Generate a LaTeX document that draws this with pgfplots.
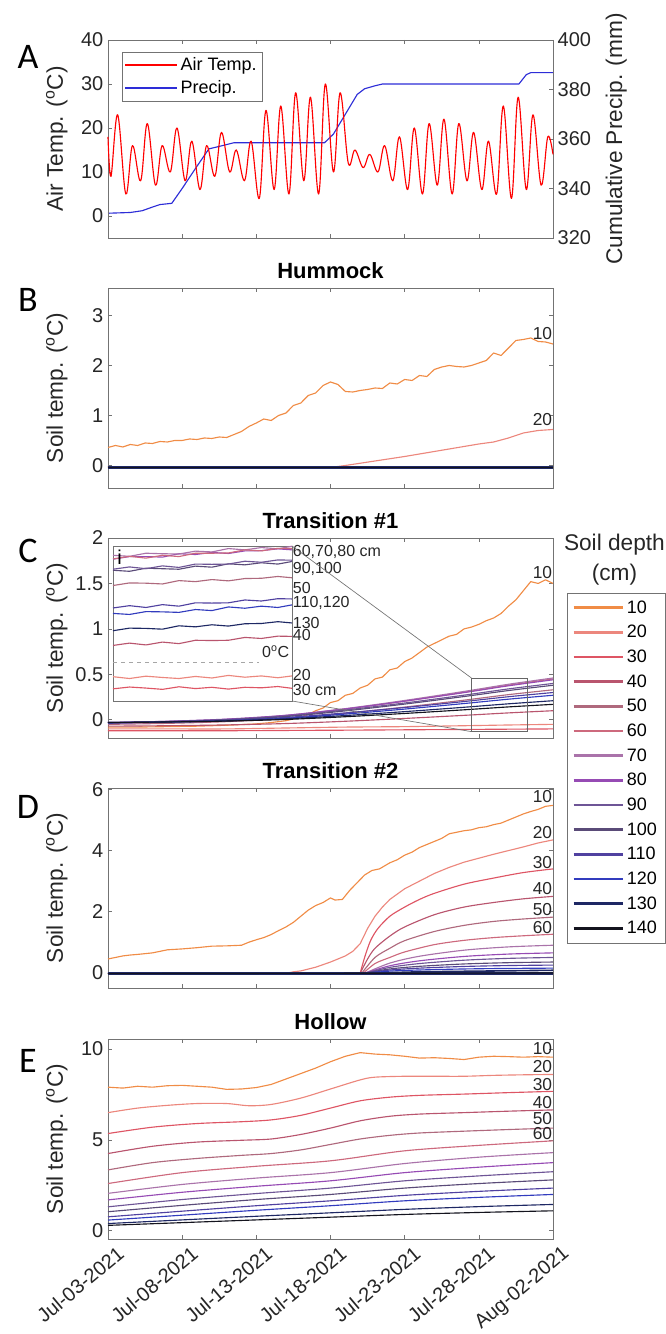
\documentclass[border=0pt]{standalone}
\usepackage{fontspec}
\setmainfont{Liberation Sans}
\newfontfamily\letterfont{Carlito}
\usepackage{pgfplots}
\pgfplotsset{compat=1.18}
\definecolor{c10}{RGB}{240,140,70}
\definecolor{c20}{RGB}{236,135,125}
\definecolor{c30}{RGB}{222,85,100}
\definecolor{c40}{RGB}{185,85,110}
\definecolor{c50}{RGB}{175,105,125}
\definecolor{c60}{RGB}{205,105,125}
\definecolor{c70}{RGB}{170,115,170}
\definecolor{c80}{RGB}{150,75,180}
\definecolor{c90}{RGB}{110,85,150}
\definecolor{c100}{RGB}{90,75,120}
\definecolor{c110}{RGB}{80,65,160}
\definecolor{c120}{RGB}{50,60,190}
\definecolor{c130}{RGB}{30,40,100}
\definecolor{c140}{RGB}{20,20,30}
\definecolor{precip}{RGB}{45,45,215}
\pgfplotsset{
  every axis title shift=0pt,
  panel/.style={
    scale only axis, width=333.75pt, height=150pt, anchor=north west,
    xmin=0, xmax=30, xtick={0,5,...,30}, xticklabels={},
    axis line style={black!55}, tick style={black!55, line width=0.5pt}, major tick length=3pt,
    ticklabel style={font=\fontsize{15}{17}\selectfont, text=black!85},
    /pgf/number format/assume math mode=true,
    ylabel style={font=\fontsize{17}{19}\selectfont, text=black!85, at={(axis description cs:-0.115,0.5)}, anchor=center},
    title style={font=\bfseries\fontsize{16.5}{18}\selectfont, at={(0.5,1)}, anchor=base, yshift=7pt},
    every axis plot/.append style={line width=0.85pt, line join=round},
    clip=false,
  },
}
\tikzset{
  lab/.style={font=\fontsize{13}{14}\selectfont, anchor=east, inner sep=0.5pt, text=black!85},
  ilab/.style={font=\fontsize{12}{13}\selectfont, anchor=west, inner sep=0.5pt, text=black!85},
}
\begin{document}
\begin{tikzpicture}
\path[use as bounding box] (0,0) rectangle (499.5pt,1000.5pt);
\node[font=\letterfont\fontsize{27}{27}\selectfont] at (21pt,957.75pt) {A};
\node[font=\letterfont\fontsize{27}{27}\selectfont] at (21pt,775.5pt) {B};
\node[font=\letterfont\fontsize{27}{27}\selectfont] at (21pt,587.25pt) {C};
\node[font=\letterfont\fontsize{27}{27}\selectfont] at (21pt,395.25pt) {D};
\node[font=\letterfont\fontsize{27}{27}\selectfont] at (21pt,204.75pt) {E};

% ---------------- A ----------------
\begin{axis}[panel, at={(81pt,970.5pt)}, height=148.5pt,
  ymin=320, ymax=400, ytick={320,340,...,400}, axis y line*=right, axis x line=none,
  ylabel={Cumulative Precip. (mm)},
  ylabel style={at={(axis description cs:1.142,0.5)}, anchor=center}]
\addplot[precip] coordinates {
(0,330)(1.5,330.3)(2.3,331)(3,332.5)(3.5,333.5)(4.3,334)(5,340)(6,349)(6.8,356)(7.5,357)(8.5,358.5)
(14.6,358.5)(15.2,362)(16,370)(16.8,378)(17.3,380.3)(18,381.5)(18.5,382.2)(27.7,382.2)(28.2,386)(28.5,386.8)(30,386.8)};
\end{axis}
\begin{axis}[panel, at={(81pt,970.5pt)}, height=148.5pt,
  ymin=-5, ymax=40, ytick={0,10,20,30,40}, ytick pos=left,
  ylabel={Air Temp. (\textsuperscript{o}C)},
  legend style={at={(0.031,0.94)}, anchor=north west, draw=black!55, font=\fontsize{13.5}{15}\selectfont,
    row sep=2pt, inner sep=2pt},
  legend cell align=left]
\addplot[red, smooth, tension=0.6, forget plot] coordinates {
(0,18)(0.2,9)(0.65,23)(1.2,5)(1.65,16)(2.2,8)(2.65,21)(3.2,7)(3.65,16)(4.2,10)(4.65,20)
(5.2,8)(5.65,17)(6.2,6)(6.65,16)(7.2,9)(7.65,19)(8.2,10)(8.65,15)(9.2,8)(9.65,17)
(10.2,4)(10.65,24)(11.2,6)(11.65,25)(12.2,5)(12.65,28)(13.2,8)(13.65,27)(14.2,5)(14.65,30)
(15.2,10)(15.65,28)(16.2,12)(16.65,15)(17.2,11)(17.65,14)(18.2,10)(18.65,16)(19.2,8)(19.65,18)
(20.2,6)(20.65,20)(21.2,5)(21.65,21)(22.2,7)(22.65,22)(23.2,5)(23.65,21)(24.2,8)(24.65,19)
(25.2,6)(25.65,17)(26.2,5)(26.65,25)(27.2,4)(27.65,27)(28.2,6)(28.65,23)(29.2,7)(29.65,18)(30,14)};
\addlegendimage{legend image code/.code={\draw[red, line width=1pt] (0pt,0pt) -- (39pt,0pt);}}
\addlegendentry{Air Temp.}
\addlegendimage{legend image code/.code={\draw[precip, line width=1pt] (0pt,0pt) -- (39pt,0pt);}}
\addlegendentry{Precip.}
\end{axis}

% ---------------- B ----------------
\begin{axis}[panel, at={(81pt,784.5pt)}, ymin=-0.45, ymax=3.55, ytick={0,1,2,3},
  title={Hummock}, ylabel={Soil temp. (\textsuperscript{o}C)}]
\addplot[c10] coordinates {
(0,0.36)(0.5,0.4)(1,0.37)(1.5,0.42)(2,0.4)(2.5,0.45)(3,0.44)(3.5,0.48)(4,0.47)(4.5,0.5)(5,0.5)
(5.5,0.53)(6,0.52)(6.5,0.55)(7,0.54)(7.5,0.57)(8,0.56)(8.5,0.62)(9,0.68)(9.5,0.78)(10,0.85)
(10.5,0.93)(11,0.9)(11.5,1.0)(12,1.05)(12.5,1.2)(13,1.25)(13.5,1.4)(14,1.45)(14.5,1.6)(15,1.67)
(15.5,1.62)(16,1.48)(16.5,1.47)(17,1.5)(17.5,1.52)(18,1.55)(18.5,1.54)(19,1.65)(19.5,1.63)(20,1.72)
(20.5,1.7)(21,1.8)(21.5,1.78)(22,1.92)(22.5,1.97)(23,2.0)(23.5,1.98)(24,1.97)(24.5,2.0)(25,2.05)
(25.5,2.1)(26,2.25)(26.5,2.2)(27,2.35)(27.5,2.5)(28,2.52)(28.5,2.55)(29,2.48)(29.5,2.47)(30,2.43)};
\addplot[c20] coordinates {(0,-0.04)(15,-0.04)(16,0.0)(18,0.09)(20,0.18)(22,0.28)(24,0.38)(25,0.43)(26,0.47)(27,0.55)(28,0.65)(29,0.7)(30,0.72)};
\addplot[c30] coordinates {(0,-0.03)(30,-0.03)};
\addplot[c40] coordinates {(0,-0.03)(30,-0.03)};
\addplot[c50] coordinates {(0,-0.03)(30,-0.03)};
\addplot[c60] coordinates {(0,-0.03)(30,-0.03)};
\addplot[c70] coordinates {(0,-0.03)(30,-0.03)};
\addplot[c80] coordinates {(0,-0.03)(30,-0.03)};
\addplot[c90] coordinates {(0,-0.03)(30,-0.03)};
\addplot[c100] coordinates {(0,-0.03)(30,-0.03)};
\addplot[c110] coordinates {(0,-0.035)(30,-0.035)};
\addplot[c120] coordinates {(0,-0.035)(30,-0.035)};
\addplot[c130,line width=2.4pt] coordinates {(0,-0.035)(30,-0.035)};
\addplot[c140] coordinates {(0,-0.04)(30,-0.04)};
\node[lab] at (axis cs:30,2.63) {10};
\node[lab] at (axis cs:30,0.92) {20};
\end{axis}

% ---------------- C ----------------
\begin{axis}[panel, at={(81pt,597pt)}, ymin=-0.2, ymax=2, ytick={0,0.5,1,1.5,2},
  title={Transition \#1}, ylabel={Soil temp. (\textsuperscript{o}C)},
  legend style={at={(1.031,0.726)}, anchor=north west, draw=black!55, font=\fontsize{13.5}{15}\selectfont,
    nodes={inner sep=2pt, text height=10pt, text depth=2pt}, row sep=2.5pt, inner xsep=4pt, inner ysep=3pt},
  legend cell align=left,
  legend image code/.code={\draw[#1, line width=1.9pt] (0pt,0pt) -- (37pt,0pt);}]
\addplot[c10] coordinates {
(0,-0.08)(2,-0.08)(4,-0.075)(6,-0.07)(8,-0.06)(10,-0.045)(11,-0.03)(12,-0.01)(13,0.03)(13.5,0.06)
(14,0.1)(14.5,0.13)(15,0.19)(15.5,0.21)(16,0.27)(16.5,0.29)(17,0.35)(17.5,0.38)(18,0.45)(18.5,0.47)
(19,0.55)(19.5,0.57)(20,0.64)(20.5,0.68)(21,0.74)(21.5,0.8)(22,0.84)(22.5,0.88)(23,0.92)(23.5,0.94)
(24,1.0)(24.5,1.02)(25,1.05)(25.5,1.09)(26,1.12)(26.5,1.17)(27,1.25)(27.5,1.32)(28,1.42)(28.5,1.52)
(29,1.5)(29.5,1.54)(30,1.5)};
\addlegendentry{10}
\addplot[c20,smooth] coordinates {(0,-0.10)(4,-0.10)(8,-0.10)(12,-0.09)(16,-0.08)(20,-0.075)(24,-0.065)(27,-0.057)(30,-0.05)};
\addlegendentry{20}
\addplot[c30,smooth] coordinates {(0,-0.12)(4,-0.12)(8,-0.12)(12,-0.117)(16,-0.114)(20,-0.11)(24,-0.106)(27,-0.103)(30,-0.10)};
\addlegendentry{30}
\addplot[c40,smooth] coordinates {(0,-0.07)(4,-0.065)(8,-0.056)(12,-0.041)(16,-0.016)(20,0.015)(24,0.049)(27,0.076)(30,0.10)};
\addlegendentry{40}
\addplot[c50,smooth] coordinates {(0,-0.05)(4,-0.039)(8,-0.02)(12,0.015)(16,0.072)(20,0.14)(24,0.216)(27,0.277)(30,0.33)};
\addlegendentry{50}
\addplot[c60,smooth] coordinates {(0,-0.04)(4,-0.025)(8,-0.001)(12,0.043)(16,0.117)(20,0.205)(24,0.303)(27,0.381)(30,0.45)};
\addlegendentry{60}
\addplot[c70,smooth] coordinates {(0,-0.035)(4,-0.02)(8,0.005)(12,0.049)(16,0.123)(20,0.213)(24,0.312)(27,0.391)(30,0.46)};
\addlegendentry{70}
\addplot[c80,smooth] coordinates {(0,-0.03)(4,-0.016)(8,0.008)(12,0.05)(16,0.12)(20,0.205)(24,0.299)(27,0.374)(30,0.44)};
\addlegendentry{80}
\addplot[c90,smooth] coordinates {(0,-0.03)(4,-0.017)(8,0.004)(12,0.043)(16,0.108)(20,0.185)(24,0.271)(27,0.34)(30,0.40)};
\addlegendentry{90}
\addplot[c100,smooth] coordinates {(0,-0.035)(4,-0.023)(8,-0.002)(12,0.036)(16,0.098)(20,0.173)(24,0.256)(27,0.322)(30,0.38)};
\addlegendentry{100}
\addplot[c110,smooth] coordinates {(0,-0.03)(4,-0.02)(8,-0.004)(12,0.026)(16,0.076)(20,0.135)(24,0.201)(27,0.254)(30,0.30)};
\addlegendentry{110}
\addplot[c120,smooth] coordinates {(0,-0.035)(4,-0.026)(8,-0.011)(12,0.017)(16,0.063)(20,0.118)(24,0.179)(27,0.227)(30,0.27)};
\addlegendentry{120}
\addplot[c130,smooth] coordinates {(0,-0.03)(4,-0.023)(8,-0.011)(12,0.011)(16,0.047)(20,0.09)(24,0.138)(27,0.176)(30,0.21)};
\addlegendentry{130}
\addplot[c140,smooth] coordinates {(0,-0.03)(4,-0.024)(8,-0.014)(12,0.004)(16,0.034)(20,0.07)(24,0.11)(27,0.142)(30,0.17)};
\addlegendentry{140}
\node[lab] at (axis cs:30,1.62) {10};
\draw[black!60, line width=0.5pt] (axis cs:24.5,-0.13) rectangle (axis cs:28.3,0.46);
\coordinate (boxTL) at (axis cs:24.5,0.46);
\coordinate (boxBL) at (axis cs:24.5,-0.13);
\node[font=\fontsize{17}{19}\selectfont, text=black!85] at (rel axis cs:1.138,0.965) {Soil depth};
\node[font=\fontsize{17}{19}\selectfont, text=black!85] at (rel axis cs:1.138,0.818) {(cm)};
\end{axis}

% ---------------- inset ----------------
\begin{axis}[at={(84.75pt,591pt)}, anchor=north west, scale only axis, width=134.25pt, height=116.25pt,
  xmin=24.5, xmax=28.3, ymin=-0.15, ymax=0.45, ticks=none, axis line style={black!55},
  axis background/.style={fill=white}, clip=false,
  every axis plot/.append style={line width=0.85pt, line join=round}]
\addplot[black!35, dashed, line width=0.5pt] coordinates {(24.5,0)(27.6,0)};
\addplot[c30] coordinates {(24.5,-0.103)(24.85,-0.096)(25.2,-0.100)(25.55,-0.105)(25.9,-0.095)(26.25,-0.102)(26.6,-0.097)(26.95,-0.104)(27.3,-0.097)(27.65,-0.099)(28.0,-0.094)(28.3,-0.101)};
\addplot[c20] coordinates {(24.5,-0.056)(24.85,-0.063)(25.2,-0.054)(25.55,-0.059)(25.9,-0.063)(26.25,-0.055)(26.6,-0.061)(26.95,-0.051)(27.3,-0.058)(27.65,-0.053)(28.0,-0.060)(28.3,-0.053)};
\addplot[c40] coordinates {(24.5,0.065)(24.85,0.074)(25.2,0.067)(25.55,0.078)(25.9,0.072)(26.25,0.085)(26.6,0.084)(26.95,0.085)(27.3,0.096)(27.65,0.092)(28.0,0.101)(28.3,0.100)};
\addplot[c130] coordinates {(24.5,0.122)(24.85,0.132)(25.2,0.131)(25.55,0.128)(25.9,0.141)(26.25,0.137)(26.6,0.145)(26.95,0.140)(27.3,0.149)(27.65,0.150)(28.0,0.157)(28.3,0.152)};
\addplot[c120] coordinates {(24.5,0.189)(24.85,0.185)(25.2,0.196)(25.55,0.195)(25.9,0.193)(26.25,0.204)(26.6,0.200)(26.95,0.214)(27.3,0.209)(27.65,0.217)(28.0,0.212)(28.3,0.222)};
\addplot[c110] coordinates {(24.5,0.210)(24.85,0.219)(25.2,0.212)(25.55,0.223)(25.9,0.217)(26.25,0.230)(26.6,0.229)(26.95,0.230)(27.3,0.241)(27.65,0.237)(28.0,0.246)(28.3,0.245)};
\addplot[c50] coordinates {(24.5,0.297)(24.85,0.307)(25.2,0.306)(25.55,0.303)(25.9,0.316)(26.25,0.312)(26.6,0.320)(26.95,0.315)(27.3,0.324)(27.65,0.325)(28.0,0.332)(28.3,0.327)};
\addplot[c100] coordinates {(24.5,0.356)(24.85,0.352)(25.2,0.364)(25.55,0.362)(25.9,0.360)(26.25,0.372)(26.6,0.368)(26.95,0.381)(27.3,0.377)(27.65,0.385)(28.0,0.380)(28.3,0.390)};
\addplot[c90] coordinates {(24.5,0.360)(24.85,0.369)(25.2,0.362)(25.55,0.373)(25.9,0.367)(26.25,0.380)(26.6,0.379)(26.95,0.380)(27.3,0.391)(27.65,0.387)(28.0,0.396)(28.3,0.395)};
\addplot[c80] coordinates {(24.5,0.399)(24.85,0.409)(25.2,0.409)(25.55,0.407)(25.9,0.420)(26.25,0.417)(26.6,0.425)(26.95,0.421)(27.3,0.431)(27.65,0.432)(28.0,0.439)(28.3,0.435)};
\addplot[c70] coordinates {(24.5,0.414)(24.85,0.410)(25.2,0.422)(25.55,0.420)(25.9,0.419)(26.25,0.430)(26.6,0.427)(26.95,0.440)(27.3,0.435)(27.65,0.444)(28.0,0.439)(28.3,0.449)};
\addplot[c60] coordinates {(24.5,0.400)(24.85,0.410)(25.2,0.403)(25.55,0.414)(25.9,0.409)(26.25,0.422)(26.6,0.422)(26.95,0.423)(27.3,0.435)(27.65,0.431)(28.0,0.441)(28.3,0.440)};
\coordinate (insTR) at (rel axis cs:1,1);
\coordinate (insBR) at (rel axis cs:1,0);
\node[font=\fontsize{15}{17}\selectfont, anchor=north west, inner sep=1pt] at (rel axis cs:0.015,0.985) {i};
\node[ilab] at (rel axis cs:1,0.96) {60,70,80 cm};
\node[ilab] at (rel axis cs:1,0.85) {90,100};
\node[ilab] at (rel axis cs:1,0.73) {50};
\node[ilab] at (rel axis cs:1,0.635) {110,120};
\node[ilab] at (rel axis cs:1,0.50) {130};
\node[ilab] at (rel axis cs:1,0.425) {40};
\node[lab, font=\fontsize{12}{13}\selectfont] at (rel axis cs:0.99,0.32) {0\textsuperscript{o}C};
\node[ilab] at (rel axis cs:1,0.17) {20};
\node[ilab] at (rel axis cs:1,0.07) {30 cm};
\end{axis}
\draw[black!55, line width=0.5pt] (insTR) -- (boxTL);
\draw[black!55, line width=0.5pt] (insBR) -- (boxBL);

% ---------------- D ----------------
\begin{axis}[panel, at={(81pt,409.5pt)}, ymin=-0.5, ymax=6.05, ytick={0,2,4,6},
  title={Transition \#2}, ylabel={Soil temp. (\textsuperscript{o}C)}]
\addplot[c10] coordinates {
(0,0.45)(0.5,0.5)(1,0.55)(1.5,0.58)(2,0.6)(3,0.65)(4,0.75)(5,0.78)(6,0.82)(7,0.87)(8,0.88)(9,0.9)
(9.5,1.0)(10,1.08)(10.5,1.15)(11,1.25)(11.5,1.38)(12,1.5)(12.5,1.65)(13,1.85)(13.5,2.05)(14,2.2)
(14.5,2.3)(15,2.45)(15.3,2.38)(15.8,2.4)(16.3,2.7)(16.8,2.95)(17.3,3.2)(17.8,3.35)(18.3,3.4)(19,3.6)
(19.5,3.7)(20,3.85)(20.5,3.95)(21,4.1)(21.5,4.2)(22,4.3)(22.5,4.4)(23,4.55)(23.5,4.6)(24,4.65)
(24.5,4.68)(25,4.75)(25.5,4.78)(26,4.85)(26.5,4.9)(27,5.0)(27.5,5.1)(28,5.2)(28.5,5.28)(29,5.35)(29.5,5.45)(30,5.48)};
\addplot[c20] coordinates {(0,-0.02)(12,-0.02)(12.5,0.03)(13,0.06)(14,0.18)(15,0.35)(16,0.55)(16.5,0.7)(17,0.95)(17.5,1.45)(18,1.85)(18.5,2.15)(19,2.4)(20,2.75)(21,3.0)(22,3.25)(23,3.45)(24,3.62)(25,3.75)(26,3.88)(27,4.0)(28,4.12)(29,4.25)(30,4.35)};
\addplot[c30] coordinates {(0,-0.02)(17,-0.02)};
\addplot[c30,smooth,tension=0.5] coordinates {(17,-0.02)(17.3,0.5)(17.7,1.05)(18.2,1.45)(19,1.85)(20,2.15)(21,2.4)(22,2.6)(24,2.9)(26,3.1)(28,3.28)(30,3.4)};
\addplot[c40] coordinates {(0,-0.02)(17,-0.02)};
\addplot[c40,smooth,tension=0.5] coordinates {(17,-0.02)(17.5,0.45)(18,0.8)(19,1.2)(20,1.5)(22,1.9)(24,2.15)(26,2.3)(28,2.42)(30,2.5)};
\addplot[c50] coordinates {(0,-0.02)(17.1,-0.02)};
\addplot[c50,smooth,tension=0.5] coordinates {(17.1,-0.02)(18,0.5)(19,0.8)(20,1.05)(22,1.35)(24,1.55)(26,1.68)(28,1.76)(30,1.82)};
\addplot[c60] coordinates {(0,-0.02)(17.2,-0.02)};
\addplot[c60,smooth,tension=0.5] coordinates {(17.2,-0.02)(18,0.3)(19,0.5)(20,0.68)(22,0.92)(24,1.06)(26,1.15)(28,1.21)(30,1.26)};
\addplot[c70] coordinates {(0,-0.02)(17.3,-0.02)};
\addplot[c70,smooth,tension=0.5] coordinates {(17.3,-0.02)(19,0.315)(21,0.54)(24,0.738)(27,0.846)(30,0.9)};
\addplot[c80] coordinates {(0,-0.02)(17.3,-0.02)};
\addplot[c80,smooth,tension=0.5] coordinates {(17.3,-0.02)(19,0.228)(21,0.39)(24,0.533)(27,0.611)(30,0.65)};
\addplot[c90] coordinates {(0,-0.02)(17.3,-0.02)};
\addplot[c90,smooth,tension=0.5] coordinates {(17.3,-0.02)(19,0.175)(21,0.3)(24,0.41)(27,0.47)(30,0.5)};
\addplot[c100] coordinates {(0,-0.02)(17.3,-0.02)};
\addplot[c100,smooth,tension=0.5] coordinates {(17.3,-0.02)(19,0.123)(21,0.21)(24,0.287)(27,0.329)(30,0.35)};
\addplot[c110] coordinates {(0,-0.02)(17.3,-0.02)};
\addplot[c110,smooth,tension=0.5] coordinates {(17.3,-0.02)(19,0.088)(21,0.15)(24,0.205)(27,0.235)(30,0.25)};
\addplot[c120] coordinates {(0,-0.02)(17.3,-0.02)};
\addplot[c120,smooth,tension=0.5] coordinates {(17.3,-0.02)(19,0.053)(21,0.09)(24,0.123)(27,0.141)(30,0.15)};
\addplot[c130,line width=1.2pt] coordinates {(0,-0.02)(17.3,-0.02)(21,0.03)(30,0.08)};
\addplot[c130,line width=2.2pt] coordinates {(0,-0.03)(30,-0.03)};
\addplot[c140] coordinates {(0,-0.03)(30,-0.01)};
\node[lab] at (axis cs:30,5.78) {10};
\node[lab] at (axis cs:30,4.58) {20};
\node[lab] at (axis cs:30,3.62) {30};
\node[lab] at (axis cs:30,2.75) {40};
\node[lab] at (axis cs:30,2.07) {50};
\node[lab] at (axis cs:30,1.47) {60};
\end{axis}

% ---------------- E ----------------
\begin{axis}[panel, at={(81pt,221.25pt)}, ymin=-0.45, ymax=10.55, ytick={0,5,10},
  title={Hollow}, ylabel={Soil temp. (\textsuperscript{o}C)},
  xticklabels={Jul-03-2021,Jul-08-2021,Jul-13-2021,Jul-18-2021,Jul-23-2021,Jul-28-2021,Aug-02-2021},
  xticklabel style={rotate=40, anchor=north east, inner sep=1pt, xshift=3pt, yshift=-6pt}]
\addplot[c10] coordinates {(0,7.9)(1,7.85)(2,7.95)(3,7.9)(4,7.98)(5,8.0)(6,7.95)(7,7.9)(8,7.78)(9,7.8)(10,7.88)(11,8.05)(12,8.35)(13,8.65)(14,8.95)(15,9.3)(16,9.6)(17,9.8)(18,9.72)(19,9.68)(20,9.6)(21,9.5)(22,9.52)(23,9.48)(24,9.42)(25,9.55)(26,9.6)(27,9.58)(28,9.55)(29,9.58)(30,9.55)};
\addplot[c20,smooth,tension=0.5] coordinates {(0,6.5)(2,6.75)(4,6.9)(6,7.0)(8,7.0)(9.5,6.88)(11,6.95)(13,7.3)(15,7.8)(17,8.3)(18,8.45)(20,8.5)(22,8.5)(24,8.5)(26,8.55)(28,8.58)(30,8.6)};
\addplot[c30,smooth,tension=0.5] coordinates {(0,5.35)(3,5.7)(6,5.9)(9,6.0)(11,6.1)(13,6.35)(15,6.75)(17,7.15)(19,7.35)(21,7.45)(24,7.52)(27,7.6)(30,7.67)};
\addplot[c40,smooth,tension=0.5] coordinates {(0,4.25)(3,4.65)(6,4.88)(9,4.98)(11,5.05)(13,5.3)(15,5.65)(17,6.05)(19,6.3)(21,6.42)(24,6.5)(27,6.58)(30,6.65)};
\addplot[c50,smooth,tension=0.5] coordinates {(0,3.35)(3,3.75)(6,3.98)(9,4.15)(11,4.25)(13,4.45)(15,4.75)(17,5.05)(19,5.25)(21,5.38)(24,5.48)(27,5.57)(30,5.65)};
\addplot[c60,smooth,tension=0.5] coordinates {(0,2.6)(5,3.2)(10,3.55)(15,3.85)(20,4.4)(25,4.7)(30,4.95)};
\addplot[c70,smooth,tension=0.5] coordinates {(0,2.06)(5,2.55)(10,2.9)(15,3.2)(20,3.7)(25,4.05)(30,4.3)};
\addplot[c80,smooth,tension=0.5] coordinates {(0,1.7)(5,2.12)(10,2.45)(15,2.75)(20,3.2)(25,3.5)(30,3.75)};
\addplot[c90,smooth,tension=0.5] coordinates {(0,1.32)(5,1.72)(10,2.05)(15,2.35)(20,2.75)(25,3.02)(30,3.25)};
\addplot[c100,smooth,tension=0.5] coordinates {(0,1.05)(5,1.4)(10,1.72)(15,2.0)(20,2.35)(25,2.6)(30,2.8)};
\addplot[c110,smooth,tension=0.5] coordinates {(0,0.77)(5,1.08)(10,1.38)(15,1.65)(20,1.95)(25,2.17)(30,2.35)};
\addplot[c120,smooth,tension=0.5] coordinates {(0,0.59)(5,0.86)(10,1.13)(15,1.38)(20,1.65)(25,1.84)(30,2.0)};
\addplot[c130,smooth,tension=0.5] coordinates {(0,0.4)(5,0.6)(10,0.8)(15,0.99)(20,1.18)(25,1.33)(30,1.45)};
\addplot[c140,smooth,tension=0.5] coordinates {(0,0.3)(5,0.45)(10,0.6)(15,0.75)(20,0.9)(25,1.01)(30,1.1)};
\node[lab] at (axis cs:30,10.0) {10};
\node[lab] at (axis cs:30,9.04) {20};
\node[lab] at (axis cs:30,8.07) {30};
\node[lab] at (axis cs:30,7.06) {40};
\node[lab] at (axis cs:30,6.2) {50};
\node[lab] at (axis cs:30,5.33) {60};
\end{axis}
\end{tikzpicture}
\end{document}
